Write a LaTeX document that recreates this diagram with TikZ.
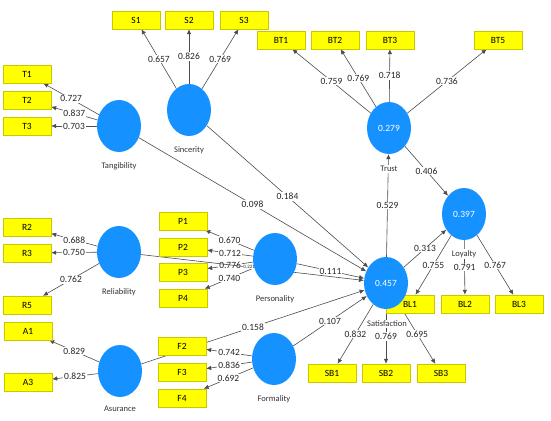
\documentclass[tikz,border=0pt]{standalone}
\usepackage{fontspec}
\setmainfont{Carlito}
\usetikzlibrary{shapes.geometric,arrows.meta}
\definecolor{lvblue}{RGB}{21,146,255}
\definecolor{mvyellow}{RGB}{255,255,0}
\definecolor{mvedge}{RGB}{200,200,0}
\pgfdeclarelayer{bg}
\pgfsetlayers{bg,main}

\begin{document}
\begin{tikzpicture}[x=1pt,y=-1pt,
	lv/.style={ellipse,fill=lvblue,minimum width=44pt,minimum height=52pt,inner sep=0pt,text=white,font=\fontsize{9.5}{9.5}\selectfont},
	mv/.style={rectangle,draw=mvedge,fill=mvyellow,minimum width=48pt,minimum height=18pt,inner sep=0pt,font=\fontsize{9.5}{9.5}\selectfont},
	lvname/.style={fill=white,inner sep=1pt,text=black!80,font=\fontsize{8.5}{8.5}\selectfont},
	conn/.style={draw=black!70,line width=0.6pt,-{Latex[length=5pt,width=4.5pt]}},
	coef/.style={midway,fill=white,inner sep=0.8pt,text=black!85,font=\fontsize{9.5}{9.5}\selectfont}]

\useasboundingbox (0,0) rectangle (551,420);

% indicators
\foreach \n/\x/\y in {S1/136/20,S2/189/20,S3/244/20,
	BT1/281/40,BT2/335/40,BT3/390/40,BT5/498/40,
	T1/27/74,T2/27/100,T3/27/126,
	R2/27/227,R3/27/253,R5/27/305,
	A1/28/331,A3/28/382,
	P1/183/221,P2/183/247,P3/183/272,P4/183/298,
	F2/182/346,F3/182/372,F4/182/398,
	BL1/410/304,BL2/465/304,BL3/519/304,
	SB1/332/373,SB2/386/373,SB3/441/373}
	\node[mv] (\n) at (\x,\y) {\n};

% latent variables
\node[lv] (tang) at (119,126) {};
\node[lv] (sinc) at (189,110) {};
\node[lv] (reli) at (119,252) {};
\node[lv] (asur) at (120,371) {};
\node[lv] (pers) at (275,259) {};
\node[lv] (form) at (274,359) {};
\node[lv] (sat) at (386,283) {0.457};
\node[lv] (trust) at (389,128) {0.279};
\node[lv] (loy) at (464,214) {0.397};

\node[lvname] (tangname) at (119,166) {Tangibility};
\node[lvname] (sincname) at (189,150) {Sincerity};
\node[lvname] (reliname) at (119,292) {Reliability};
\node[lvname] (asurname) at (120,409) {Asurance};
\node[lvname] (persname) at (275,299) {Personality};
\node[lvname] (formname) at (274,399) {Formality};
\node[lvname] (satname) at (387,324) {Satisfaction};
\node[lvname] (trustname) at (389,169) {Trust};
\node[lvname] (loyname) at (464,254) {Loyalty};

\begin{pgfonlayer}{bg}
% outer loadings
\foreach \a/\b/\v in {sinc/S1/0.657,sinc/S2/0.826,sinc/S3/0.769,
	tang/T1/0.727,tang/T2/0.837,tang/T3/0.703,
	reli/R2/0.688,reli/R3/0.750,reli/R5/0.762,
	asur/A1/0.829,asur/A3/0.825,
	pers/P1/0.670,pers/P2/0.712,pers/P3/0.776,pers/P4/0.740,
	form/F2/0.742,form/F3/0.836,form/F4/0.692,
	trust/BT1/0.759,trust/BT2/0.769,trust/BT3/0.718,trust/BT5/0.736,
	loy/BL1/0.755,loy/BL2/0.791,loy/BL3/0.767,
	sat/SB1/0.832,sat/SB2/0.769,sat/SB3/0.695}
	\draw[conn] (\a) -- node[coef] {\v} (\b);
% path coefficients
\draw[conn] (reli) -- node[coef,pos=0.485,inner sep=0.3pt,font=\fontsize{5}{5}\selectfont] {0.221} (sat);
\foreach \a/\b/\v in {tang/sat/0.098,sinc/sat/0.184,pers/sat/0.111,
	asur/sat/0.158,form/sat/0.107,sat/trust/0.529,trust/loy/0.406,sat/loy/0.313}
	\draw[conn] (\a) -- node[coef] {\v} (\b);
\end{pgfonlayer}

\end{tikzpicture}
\end{document}
